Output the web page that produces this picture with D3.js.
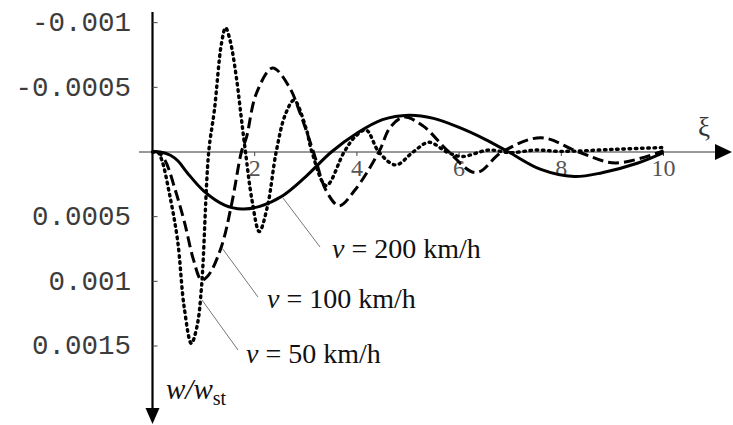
<!DOCTYPE html>
<html><head><meta charset="utf-8">
<script src="https://cdn.jsdelivr.net/npm/d3@7"></script>
<style>html,body{margin:0;padding:0;background:#fff}svg{display:block}</style>
</head><body>
<svg id="c" width="733" height="425"></svg>
<script>
// data: xi and w/w_st in units of 1e-4 (positive downward)
const xi200 = [0, 0.15, 0.35, 0.5, 0.68, 1.0, 1.41, 1.76, 2.1, 2.54, 3.0, 3.5, 4.0, 4.5, 5.02, 5.5, 6.0, 6.5, 6.97, 7.6, 8.25, 8.8, 9.5, 10];
const w200  = [0, 0, 0.25, 0.7, 1.6, 3.0, 4.1, 4.4, 4.2, 3.4, 1.9, 0, -1.45, -2.5, -2.85, -2.6, -1.9, -1.0, 0, 1.35, 1.9, 1.6, 0.85, 0.05];

const xi100 = [0, 0.1, 0.24, 0.45, 0.63, 0.8, 0.96, 1.1, 1.35, 1.55, 1.74, 1.84, 2.03, 2.35, 2.68, 2.87, 3.15, 3.4, 3.65, 3.95, 4.43, 4.65, 4.92, 5.3, 5.8, 6.33, 6.84, 7.6, 8.34, 9.06, 10];
const w100  = [0, 0, 0.6, 3.0, 5.5, 8.3, 9.9, 9.5, 7.3, 4.0, 0, -1.15, -4.5, -6.5, -5.0, -3.2, 0, 3.0, 4.15, 3.0, 0, -1.9, -2.7, -2.0, 0, 1.6, 0, -1.1, 0, 0.85, -0.1];

const xi50 = [0, 0.1, 0.18, 0.33, 0.49, 0.62, 0.76, 0.87, 0.96, 1.1, 1.21, 1.35, 1.43, 1.52, 1.64, 1.76, 1.82, 1.95, 2.09, 2.25, 2.42, 2.6, 2.77, 3.0, 3.12, 3.4, 3.75, 3.97, 4.18, 4.43, 4.76, 5.1, 5.41, 5.76, 6.05, 6.58, 7.0, 7.5, 8.0, 9.0, 10];
const w50  = [0, 0, 0.6, 3.2, 6.8, 12.0, 14.8, 13.5, 10.4, 0, -3.2, -8.4, -9.6, -8.6, -5.8, -1.9, 0, 3.8, 6.15, 4.2, 0, -2.9, -4.0, -1.9, 0, 2.6, 0, -1.2, -1.7, 0, 1.0, 0, -0.75, 0, 0.35, -0.15, 0.05, -0.15, -0.05, -0.2, -0.35];

const yTickVals = [-10, -5, 5, 10, 15];
const yTickLabels = ["-0.001", "-0.0005", "0.0005", "0.001", "0.0015"];
const xTickVals = [2, 4, 6, 8, 10];

const svg = d3.select("#c");
const x = d3.scaleLinear().domain([0, 10]).range([152.5, 663.5]);
const y = d3.scaleLinear().domain([0, 15]).range([152, 346]);

// x axis line + arrow
svg.append("line").attr("x1", 139).attr("x2", 718).attr("y1", y(0)).attr("y2", y(0))
  .attr("stroke", "#333").attr("stroke-width", 1);
svg.append("path").attr("d", `M715,${y(0)-8} L732,${y(0)} L715,${y(0)+8} Z`).attr("fill", "#000");

// y axis line + arrow
svg.append("line").attr("x1", x(0)).attr("x2", x(0)).attr("y1", 12).attr("y2", 412)
  .attr("stroke", "#000").attr("stroke-width", 2.2);
svg.append("path").attr("d", `M${x(0)-7},408 L${x(0)},424 L${x(0)+7},408 Z`).attr("fill", "#000");

// y ticks
svg.selectAll(".yt").data(yTickVals).enter().append("line")
  .attr("x1", x(0)).attr("x2", x(0) + 5).attr("y1", d => y(d)).attr("y2", d => y(d))
  .attr("stroke", "#444").attr("stroke-width", 1);
svg.selectAll(".yl").data(yTickVals).enter().append("text")
  .attr("x", 131).attr("y", d => y(d) + 1).attr("text-anchor", "end")
  .attr("dominant-baseline", "middle")
  .attr("font-family", "'Liberation Mono', monospace").attr("font-size", 27.5)
  .attr("fill", "#3c3c3c").text((d, i) => yTickLabels[i]);

// x ticks
svg.selectAll(".xt").data(xTickVals).enter().append("line")
  .attr("x1", d => x(d)).attr("x2", d => x(d)).attr("y1", y(0)).attr("y2", y(0) + 4)
  .attr("stroke", "#444").attr("stroke-width", 1);
svg.selectAll(".xl").data(xTickVals).enter().append("text")
  .attr("x", d => x(d)).attr("y", 176).attr("text-anchor", "middle")
  .attr("font-family", "'Liberation Serif', serif").attr("font-size", 24)
  .attr("fill", "#555").text(d => d);

// axis labels
svg.append("text").attr("x", 704).attr("y", 136).attr("text-anchor", "middle")
  .attr("font-family", "'Liberation Serif', serif").attr("font-size", 27).attr("fill", "#333").text("ξ");
const wl = svg.append("text").attr("x", 166).attr("y", 399)
  .attr("font-family", "'Liberation Serif', serif").attr("font-size", 29).attr("fill", "#111");
wl.append("tspan").attr("font-style", "italic").text("w");
wl.append("tspan").attr("font-style", "italic").text("/");
wl.append("tspan").attr("font-style", "italic").text("w");
wl.append("tspan").attr("font-size", 20).attr("dy", 6).text("st");

// curves
const line = d3.line().x(d => x(d[0])).y(d => y(d[1])).curve(d3.curveCatmullRom.alpha(0.5));
const series = [
  {xs: xi200, ws: w200, dash: null, w: 3, cap: "butt"},
  {xs: xi100, ws: w100, dash: "11,5", w: 3, cap: "butt"},
  {xs: xi50, ws: w50, dash: "1.6,4.6", w: 3.4, cap: "round"}
];
series.forEach(s => {
  svg.append("path").datum(s.xs.map((v, i) => [v, s.ws[i]]))
    .attr("d", line).attr("fill", "none").attr("stroke", "#000")
    .attr("stroke-width", s.w).attr("stroke-linecap", s.cap).attr("stroke-dasharray", s.dash);
});

// leader lines and labels
const labels = [
  {t: "200", lx: 332, ly: 258, l: [320, 247, 283, 198]},
  {t: "100", lx: 267, ly: 308, l: [258, 297, 222, 248]},
  {t: "50", lx: 246, ly: 363, l: [238, 350, 202, 300]}
];
labels.forEach(o => {
  svg.append("line").attr("x1", o.l[0]).attr("y1", o.l[1]).attr("x2", o.l[2]).attr("y2", o.l[3])
    .attr("stroke", "#777").attr("stroke-width", 1);
  const t = svg.append("text").attr("x", o.lx).attr("y", o.ly)
    .attr("font-family", "'Liberation Serif', serif").attr("font-size", 28).attr("fill", "#111");
  t.append("tspan").attr("font-style", "italic").text("v");
  t.append("tspan").text(" = " + o.t + " km/h");
});
</script>
</body></html>
